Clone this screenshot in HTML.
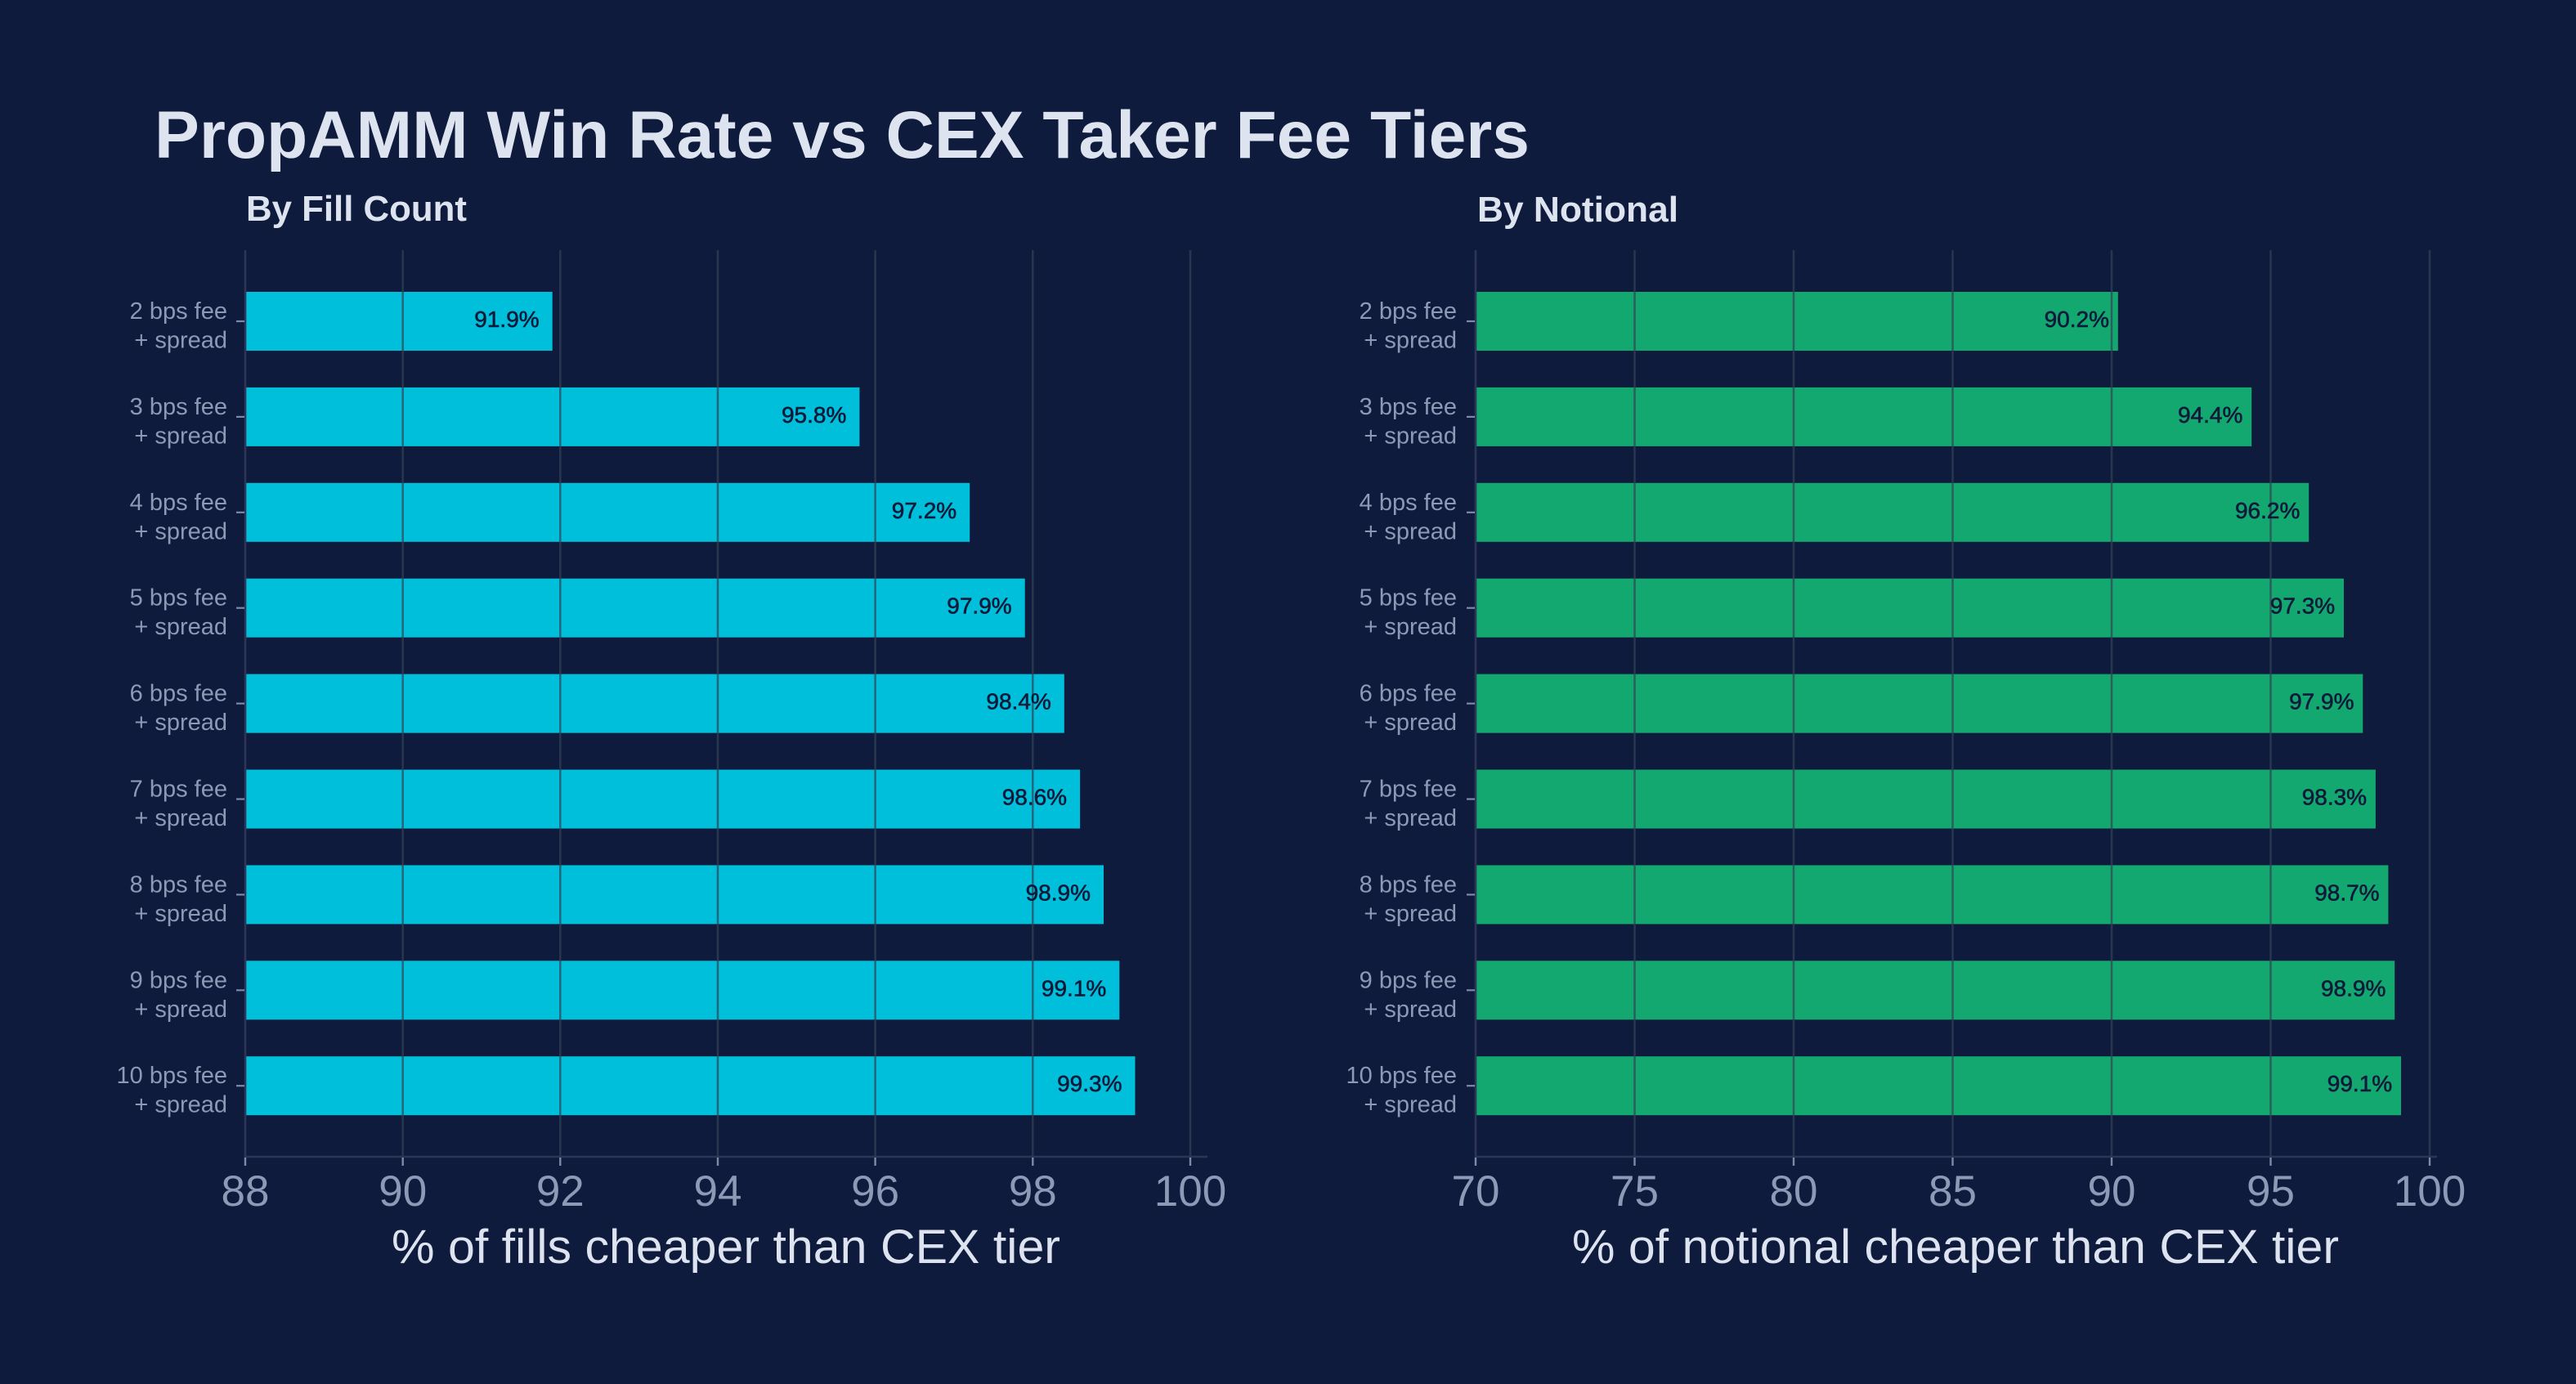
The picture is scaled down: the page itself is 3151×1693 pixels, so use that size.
<!DOCTYPE html>
<html>
<head>
<meta charset="utf-8">
<style>
  html,body{margin:0;padding:0;background:#0f1b3d;}
  svg{display:block;}
  text{font-family:"Liberation Sans","DejaVu Sans",sans-serif;}
</style>
</head>
<body>
<svg xmlns="http://www.w3.org/2000/svg" width="3151" height="1693" viewBox="0 0 3151 1693">
  <rect x="0" y="0" width="3151" height="1693" fill="#0f1b3d"/>

  <!-- Title -->
  <text x="189" y="193" font-size="82" font-weight="bold" fill="#dde3ef" textLength="1682" lengthAdjust="spacingAndGlyphs">PropAMM Win Rate vs CEX Taker Fee Tiers</text>
  <text x="301" y="270" font-size="44" font-weight="bold" fill="#dde3ef" textLength="270" lengthAdjust="spacingAndGlyphs">By Fill Count</text>
  <text x="1807" y="271" font-size="44" font-weight="bold" fill="#dde3ef" textLength="246" lengthAdjust="spacingAndGlyphs">By Notional</text>

  <!-- LEFT PANEL -->
  <g id="left">
    <g fill="#00bfda">
      <rect x="300" y="357" width="375.7" height="72"/>
      <rect x="300" y="473.9" width="751.4" height="72"/>
      <rect x="300" y="590.8" width="886.2" height="72"/>
      <rect x="300" y="707.7" width="953.7" height="72"/>
      <rect x="300" y="824.6" width="1001.8" height="72"/>
      <rect x="300" y="941.5" width="1021.1" height="72"/>
      <rect x="300" y="1058.4" width="1050" height="72"/>
      <rect x="300" y="1175.3" width="1069.3" height="72"/>
      <rect x="300" y="1292.2" width="1088.5" height="72"/>
    </g>
    <g stroke="#334155" stroke-opacity="0.7" stroke-width="2.5">
      <line x1="492.7" y1="306" x2="492.7" y2="1415"/>
      <line x1="685.3" y1="306" x2="685.3" y2="1415"/>
      <line x1="878" y1="306" x2="878" y2="1415"/>
      <line x1="1070.6" y1="306" x2="1070.6" y2="1415"/>
      <line x1="1263.3" y1="306" x2="1263.3" y2="1415"/>
      <line x1="1456" y1="306" x2="1456" y2="1415"/>
    </g>
    <g stroke="#2d3658" stroke-width="2.6">
      <line x1="300" y1="306" x2="300" y2="1416"/>
      <line x1="299" y1="1415" x2="1477" y2="1415"/>
    </g>
    <g stroke="#7f8aa8" stroke-width="2.4">
      <line x1="300" y1="1416" x2="300" y2="1426"/>
      <line x1="492.7" y1="1416" x2="492.7" y2="1426"/>
      <line x1="685.3" y1="1416" x2="685.3" y2="1426"/>
      <line x1="878" y1="1416" x2="878" y2="1426"/>
      <line x1="1070.6" y1="1416" x2="1070.6" y2="1426"/>
      <line x1="1263.3" y1="1416" x2="1263.3" y2="1426"/>
      <line x1="1456" y1="1416" x2="1456" y2="1426"/>
    </g>
    <g stroke="#7f8aa8" stroke-width="2.2">
      <line x1="289" y1="393" x2="299" y2="393"/>
      <line x1="289" y1="509.9" x2="299" y2="509.9"/>
      <line x1="289" y1="626.8" x2="299" y2="626.8"/>
      <line x1="289" y1="743.7" x2="299" y2="743.7"/>
      <line x1="289" y1="860.6" x2="299" y2="860.6"/>
      <line x1="289" y1="977.5" x2="299" y2="977.5"/>
      <line x1="289" y1="1094.4" x2="299" y2="1094.4"/>
      <line x1="289" y1="1211.3" x2="299" y2="1211.3"/>
      <line x1="289" y1="1328.2" x2="299" y2="1328.2"/>
    </g>
    <g font-size="53" fill="#8d99b5" text-anchor="middle">
      <text x="300" y="1475">88</text>
      <text x="492.7" y="1475">90</text>
      <text x="685.3" y="1475">92</text>
      <text x="878" y="1475">94</text>
      <text x="1070.6" y="1475">96</text>
      <text x="1263.3" y="1475">98</text>
      <text x="1456" y="1475">100</text>
    </g>
    <g font-size="29" fill="#8d99b5" text-anchor="end">
      <text x="278" y="390">2 bps fee</text><text x="278" y="425.5">+ spread</text>
      <text x="278" y="506.9">3 bps fee</text><text x="278" y="542.4">+ spread</text>
      <text x="278" y="623.8">4 bps fee</text><text x="278" y="659.3">+ spread</text>
      <text x="278" y="740.7">5 bps fee</text><text x="278" y="776.2">+ spread</text>
      <text x="278" y="857.6">6 bps fee</text><text x="278" y="893.1">+ spread</text>
      <text x="278" y="974.5">7 bps fee</text><text x="278" y="1010">+ spread</text>
      <text x="278" y="1091.4">8 bps fee</text><text x="278" y="1126.9">+ spread</text>
      <text x="278" y="1208.3">9 bps fee</text><text x="278" y="1243.8">+ spread</text>
      <text x="278" y="1325.2">10 bps fee</text><text x="278" y="1360.7">+ spread</text>
    </g>
    <g font-size="28" fill="#0f1a3a" stroke="#0f1a3a" stroke-width="0.6" text-anchor="end">
      <text x="659.7" y="400">91.9%</text>
      <text x="1035.4" y="516.9">95.8%</text>
      <text x="1170.2" y="633.8">97.2%</text>
      <text x="1237.7" y="750.7">97.9%</text>
      <text x="1285.8" y="867.6">98.4%</text>
      <text x="1305.1" y="984.5">98.6%</text>
      <text x="1334" y="1101.4">98.9%</text>
      <text x="1353.3" y="1218.3">99.1%</text>
      <text x="1372.5" y="1335.2">99.3%</text>
    </g>
    <text x="888" y="1545" font-size="58" fill="#dde3ef" text-anchor="middle" textLength="818" lengthAdjust="spacingAndGlyphs">% of fills cheaper than CEX tier</text>
  </g>

  <!-- RIGHT PANEL -->
  <g id="right">
    <g fill="#12a86f">
      <rect x="1805" y="357" width="785.8" height="72"/>
      <rect x="1805" y="473.9" width="949.2" height="72"/>
      <rect x="1805" y="590.8" width="1019.2" height="72"/>
      <rect x="1805" y="707.7" width="1062" height="72"/>
      <rect x="1805" y="824.6" width="1085.3" height="72"/>
      <rect x="1805" y="941.5" width="1100.9" height="72"/>
      <rect x="1805" y="1058.4" width="1116.4" height="72"/>
      <rect x="1805" y="1175.3" width="1124.2" height="72"/>
      <rect x="1805" y="1292.2" width="1132" height="72"/>
    </g>
    <g stroke="#334155" stroke-opacity="0.7" stroke-width="2.5">
      <line x1="1999.5" y1="306" x2="1999.5" y2="1415"/>
      <line x1="2194" y1="306" x2="2194" y2="1415"/>
      <line x1="2388.5" y1="306" x2="2388.5" y2="1415"/>
      <line x1="2583" y1="306" x2="2583" y2="1415"/>
      <line x1="2777.5" y1="306" x2="2777.5" y2="1415"/>
      <line x1="2972" y1="306" x2="2972" y2="1415"/>
    </g>
    <g stroke="#2d3658" stroke-width="2.6">
      <line x1="1805" y1="306" x2="1805" y2="1416"/>
      <line x1="1804" y1="1415" x2="2981" y2="1415"/>
    </g>
    <g stroke="#7f8aa8" stroke-width="2.4">
      <line x1="1805" y1="1416" x2="1805" y2="1426"/>
      <line x1="1999.5" y1="1416" x2="1999.5" y2="1426"/>
      <line x1="2194" y1="1416" x2="2194" y2="1426"/>
      <line x1="2388.5" y1="1416" x2="2388.5" y2="1426"/>
      <line x1="2583" y1="1416" x2="2583" y2="1426"/>
      <line x1="2777.5" y1="1416" x2="2777.5" y2="1426"/>
      <line x1="2972" y1="1416" x2="2972" y2="1426"/>
    </g>
    <g stroke="#7f8aa8" stroke-width="2.2">
      <line x1="1794" y1="393" x2="1804" y2="393"/>
      <line x1="1794" y1="509.9" x2="1804" y2="509.9"/>
      <line x1="1794" y1="626.8" x2="1804" y2="626.8"/>
      <line x1="1794" y1="743.7" x2="1804" y2="743.7"/>
      <line x1="1794" y1="860.6" x2="1804" y2="860.6"/>
      <line x1="1794" y1="977.5" x2="1804" y2="977.5"/>
      <line x1="1794" y1="1094.4" x2="1804" y2="1094.4"/>
      <line x1="1794" y1="1211.3" x2="1804" y2="1211.3"/>
      <line x1="1794" y1="1328.2" x2="1804" y2="1328.2"/>
    </g>
    <g font-size="53" fill="#8d99b5" text-anchor="middle">
      <text x="1805" y="1475">70</text>
      <text x="1999.5" y="1475">75</text>
      <text x="2194" y="1475">80</text>
      <text x="2388.5" y="1475">85</text>
      <text x="2583" y="1475">90</text>
      <text x="2777.5" y="1475">95</text>
      <text x="2972" y="1475">100</text>
    </g>
    <g font-size="29" fill="#8d99b5" text-anchor="end">
      <text x="1782" y="390">2 bps fee</text><text x="1782" y="425.5">+ spread</text>
      <text x="1782" y="506.9">3 bps fee</text><text x="1782" y="542.4">+ spread</text>
      <text x="1782" y="623.8">4 bps fee</text><text x="1782" y="659.3">+ spread</text>
      <text x="1782" y="740.7">5 bps fee</text><text x="1782" y="776.2">+ spread</text>
      <text x="1782" y="857.6">6 bps fee</text><text x="1782" y="893.1">+ spread</text>
      <text x="1782" y="974.5">7 bps fee</text><text x="1782" y="1010">+ spread</text>
      <text x="1782" y="1091.4">8 bps fee</text><text x="1782" y="1126.9">+ spread</text>
      <text x="1782" y="1208.3">9 bps fee</text><text x="1782" y="1243.8">+ spread</text>
      <text x="1782" y="1325.2">10 bps fee</text><text x="1782" y="1360.7">+ spread</text>
    </g>
    <g font-size="28" fill="#0f1a3a" stroke="#0f1a3a" stroke-width="0.6" text-anchor="end">
      <text x="2580" y="400">90.2%</text>
      <text x="2743.4" y="516.9">94.4%</text>
      <text x="2813.4" y="633.8">96.2%</text>
      <text x="2856.2" y="750.7">97.3%</text>
      <text x="2879.5" y="867.6">97.9%</text>
      <text x="2895.1" y="984.5">98.3%</text>
      <text x="2910.6" y="1101.4">98.7%</text>
      <text x="2918.4" y="1218.3">98.9%</text>
      <text x="2926.2" y="1335.2">99.1%</text>
    </g>
    <text x="2392" y="1545" font-size="58" fill="#dde3ef" text-anchor="middle" textLength="938" lengthAdjust="spacingAndGlyphs">% of notional cheaper than CEX tier</text>
  </g>
</svg>
</body>
</html>
